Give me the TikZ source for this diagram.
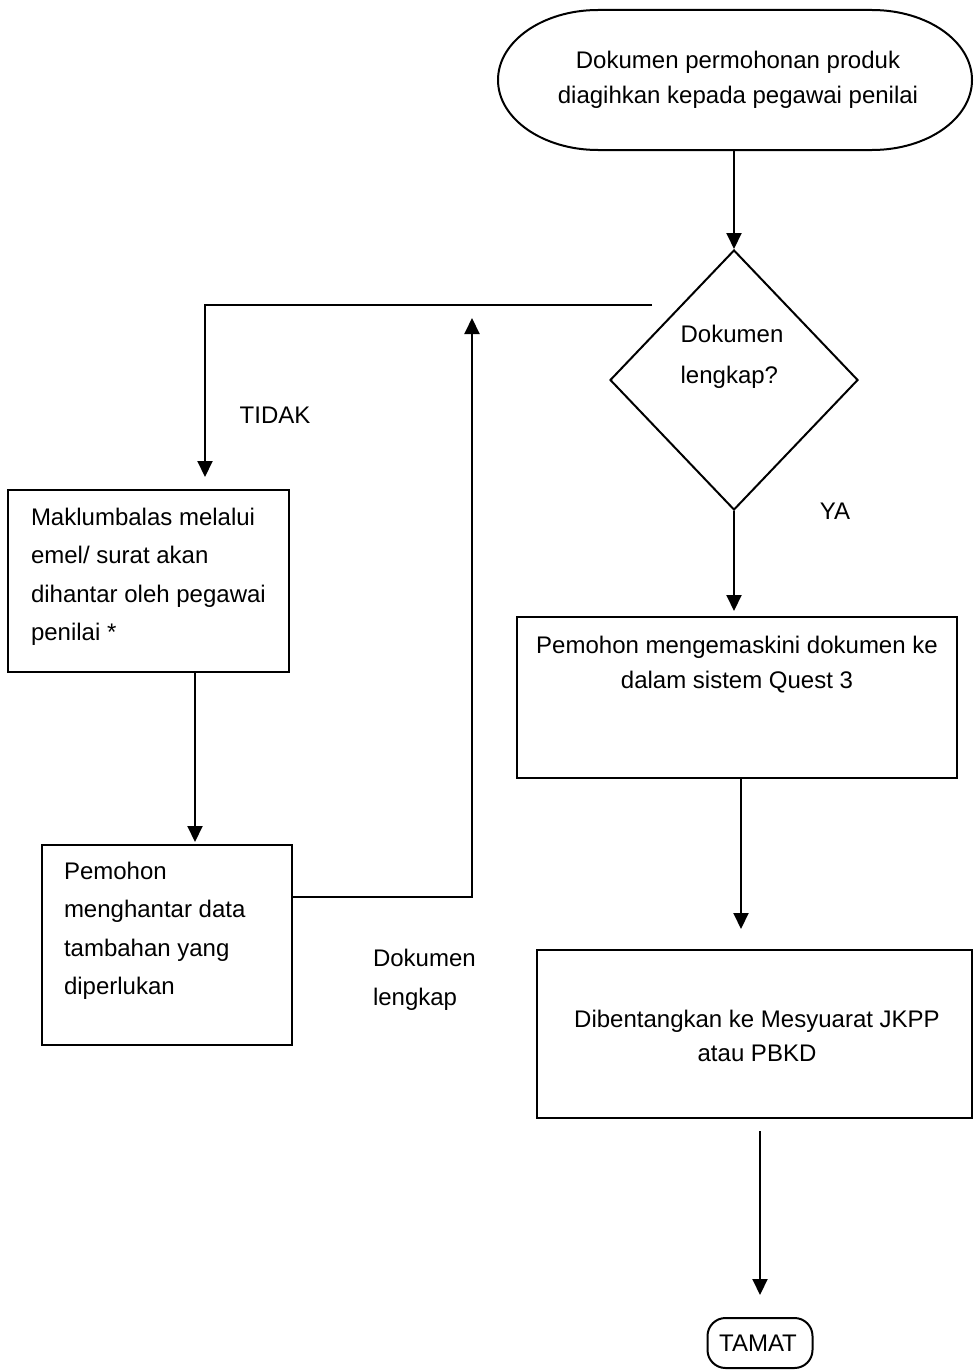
\documentclass[tikz,border=0pt]{standalone}
\usepackage{fontspec}
\setmainfont{Liberation Sans}
\usetikzlibrary{arrows.meta,shapes.geometric}
\begin{document}
\begin{tikzpicture}[x=1pt,y=-1pt,
  line width=2pt,
  box/.style={draw, rectangle, inner sep=0pt},
  txt/.style={font=\fontsize{24}{38.5}\selectfont, inner sep=0pt},
  arr/.style={-{Triangle[length=16pt,width=15pt]}},
]
\useasboundingbox (0,0) rectangle (974,1370);
% start terminal
\node[inner sep=0pt, minimum width=474pt, minimum height=140pt] (start) at (735,80) {};
\draw (598,10) -- (872,10) arc(-90:90:100 and 70) -- (598,150) arc(90:270:100 and 70) -- cycle;
\node[txt, align=center, font=\fontsize{24}{35}\selectfont] (starttxt) at (738,80) {Dokumen permohonan produk\\diagihkan kepada pegawai penilai};
% decision
\node[draw, diamond, minimum width=248pt, minimum height=260pt, inner sep=0pt] (dec) at (734,380) {};
\node[txt, align=left, font=\fontsize{24}{41}\selectfont] (dectxt) at (732,357) {Dokumen\\lengkap?};
% left boxes
\node[box, minimum width=281pt, minimum height=182pt] (b1) at (148.5,581) {};
\node[txt, align=left, anchor=west] (b1txt) at (30,577) {Maklumbalas melalui\\emel/ surat akan\\dihantar oleh pegawai\\penilai *};
\node[box, minimum width=250pt, minimum height=200pt] (b2) at (167,945) {};
\node[txt, align=left, anchor=west] (b2txt) at (63,931) {Pemohon\\menghantar data\\tambahan yang\\diperlukan};
% right boxes
\node[box, minimum width=440pt, minimum height=161pt] (b3) at (737,697.5) {};
\node[txt, align=center, font=\fontsize{24}{35}\selectfont] (b3txt) at (737,665) {Pemohon mengemaskini dokumen ke\\dalam sistem Quest 3};
\node[box, minimum width=435pt, minimum height=168pt] (b4) at (754.5,1034) {};
\node[txt, align=center, font=\fontsize{24}{34}\selectfont] (b4txt) at (757,1036) {Dibentangkan ke Mesyuarat JKPP\\atau PBKD};
\node[box, rounded corners=18pt, minimum width=105pt, minimum height=50pt] (end) at (760,1343) {};
\node[txt] (endtxt) at (758,1343) {TAMAT};
% labels
\node[txt] (tidak) at (275,415) {TIDAK};
\node[txt] (ya) at (835,511) {YA};
\node[txt, align=left, anchor=west, font=\fontsize{24}{39}\selectfont] (dl) at (372,980) {Dokumen\\lengkap};
% coordinates
\coordinate (tl) at (652,305);
\coordinate (tc) at (205,305);
\coordinate (c195) at (195,0);
\coordinate (lvl) at (0,897);
\coordinate (upx) at (472,318);
\coordinate (c741) at (741,0);
% connectors
\draw[arr] (start.south -| dec.north) -- (dec.north);
\draw[arr, shorten >=12pt] (tl) -- (tc) -- (tc |- b1.north);
\draw[arr, shorten >=2pt] (b1.south -| c195) -- (c195 |- b2.north);
\draw[arr] (lvl -| b2.east) -| (upx);
\draw[arr, shorten >=5pt] (dec.south) -- (dec.south |- b3.north);
\draw[arr, shorten >=20pt] (b3.south -| c741) -- (c741 |- b4.north);
\draw[arr, shorten <=12pt, shorten >=22pt] (b4.south -| end.north) -- (end.north);
\end{tikzpicture}
\end{document}
